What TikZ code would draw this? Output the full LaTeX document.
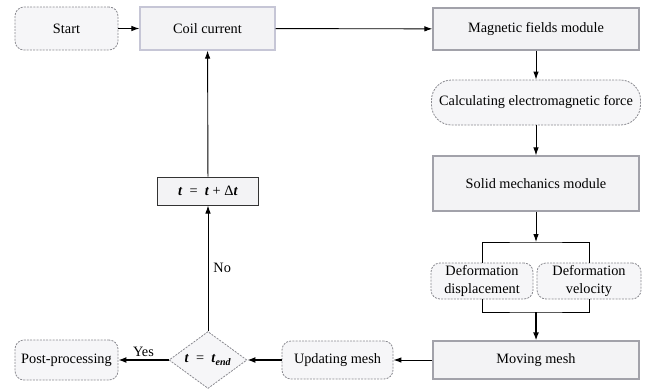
\documentclass[tikz,border=0pt]{standalone}
\usepackage{fontspec}
\setmainfont{Liberation Serif}
\newfontfamily\tnr{Liberation Serif}
\usetikzlibrary{shapes.geometric,arrows.meta}
\definecolor{boxfill}{HTML}{F3F3F5}
\definecolor{rfill}{HTML}{F6F6F8}
\definecolor{boxgray}{HTML}{A2A2AA}
\definecolor{lightgray2}{HTML}{C6C6D6}
\definecolor{dashgray}{HTML}{8A8A90}
\newcommand{\fsz}{\tnr\fontsize{14.3}{18}\selectfont}
\newcommand{\bt}{\textbf{\textit{t}}}
\begin{document}
\begin{tikzpicture}[x=1pt,y=-1pt,
  every node/.style={font=\fsz, inner sep=0pt, align=center},
  sqbox/.style={draw=boxgray, line width=1.2pt, fill=boxfill},
  rbox/.style={draw=dashgray, dash pattern=on 2pt off 1.2pt, line width=0.8pt, fill=rfill, rounded corners=9pt},
  arr/.style={-{Latex[length=8pt,width=5.5pt]}, line width=0.9pt},
  tarr/.style={-{Latex[length=8pt,width=6pt]}, line width=1.4pt},
  lbl/.style={font=\fsz}
]
\useasboundingbox (0,0) rectangle (647,388);
% nodes
\node[rbox, minimum width=103pt, minimum height=43pt] (start) at (66.5,28.5) {Start};
\node[sqbox, draw=lightgray2, minimum width=135pt, minimum height=43pt] (coil) at (207.5,28.5) {Coil current};
\node[sqbox, minimum width=206pt, minimum height=42pt] (mag) at (536,29) {Magnetic fields module};
\node[rbox, rounded corners=20pt, minimum width=209pt, minimum height=45pt] (calc) at (536,102.5) {Calculating electromagnetic force};
\node[sqbox, minimum width=206pt, minimum height=55pt] (solid) at (536,183.5) {Solid mechanics module};
\node[rbox, minimum width=102pt, minimum height=36pt] (defd) at (482,281) {Deformation\\displacement};
\node[rbox, minimum width=104pt, minimum height=36pt] (defv) at (589,281) {Deformation\\velocity};
\node[sqbox, minimum width=206pt, minimum height=38pt] (moving) at (536,360) {Moving mesh};
\node[rbox, minimum width=111pt, minimum height=38pt] (upd) at (337.5,360) {Updating mesh};
\node[diamond, draw=dashgray, dash pattern=on 2pt off 1.2pt, line width=0.8pt, fill=rfill, minimum width=78pt, minimum height=54pt] (dec) at (208,360) {\bt\enspace=\enspace\bt\textsubscript{\textbf{\textit{end}}}};
\node[rbox, minimum width=103pt, minimum height=40pt] (post) at (66.5,360) {Post-processing};
\node[sqbox, draw=black!80, line width=1pt, minimum width=101pt, minimum height=28pt] (tbox) at (208,191) {\bt\enspace=\enspace\bt\ + Δ\bt};
% bracket coordinates
\coordinate (btop) at (536,242);
\coordinate (bbot) at (536,312);
% connectors
\draw[arr] (start) -- (coil);
\draw[arr] (coil) -- (mag);
\draw[arr] (mag.south -| calc.north) -- (calc.north);
\draw[arr] (calc) -- (solid);
\draw[arr] (solid) -- (btop);
\draw[line width=0.9pt] (defd.north) |- (btop) -| (defv.north);
\draw[line width=0.9pt] (defd.south) |- (bbot) -| (defv.south);
\draw[tarr] (bbot) -- (moving.north);
\draw[arr] (moving) -- (upd);
\draw[tarr] (upd) -- (dec);
\draw[tarr] (dec) -- (post) node[lbl, pos=0.5, above=3pt] {Yes};
\draw[arr] (dec) -- (tbox) node[lbl, pos=0.5, right=5pt] {No};
\draw[arr] (tbox) -- (coil);
\end{tikzpicture}
\end{document}
